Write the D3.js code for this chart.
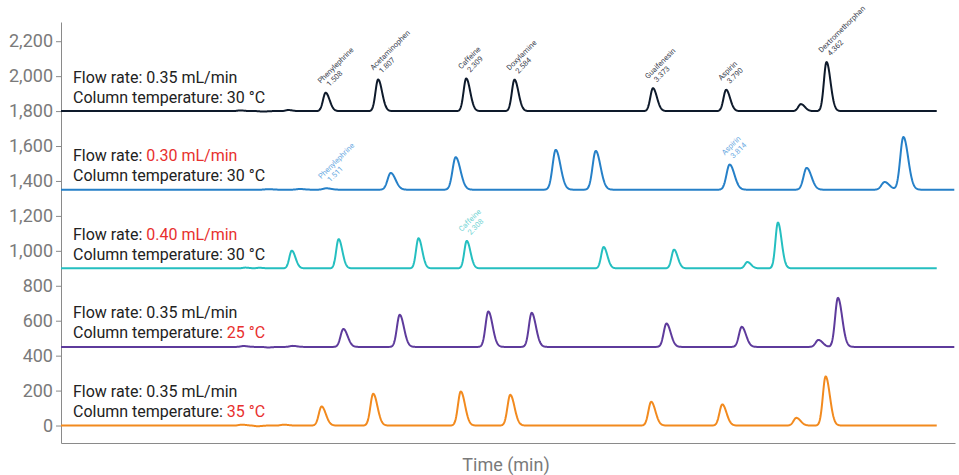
<!DOCTYPE html>
<html>
<head>
<meta charset="utf-8">
<script src="https://cdn.jsdelivr.net/npm/d3@7"></script>
<style>
  body { margin: 0; background: #fff; }
  svg { font-family: Roboto, "Noto Sans", sans-serif; }
</style>
</head>
<body>
<svg id="chart" width="959" height="475"></svg>
<script>
// baseline offset of each run (signal units)
const offsets = [1800, 1350, 900, 450, 0]
const colors = ["#0e1a2b", "#2680c8", "#25bfc0", "#5e3b9c", "#f28a1e"]
const endTimes = [4.99, 5.09, 4.99, 5.09, 4.99]
const peakWidths = [0.015, 0.018, 0.014, 0.016, 0.016]

const flowRates = ["0.35 mL/min", "0.30 mL/min", "0.40 mL/min", "0.35 mL/min", "0.35 mL/min"]
const temps = ["30 °C", "30 °C", "30 °C", "25 °C", "35 °C"]
const flowChanged = [false, true, true, false, false]
const tempChanged = [false, false, false, true, true]

// [retention time (min), height]
const peaksBlack = [[1.02, 4], [1.15, -3], [1.295, 6],
  [1.508, 105], [1.807, 181], [2.309, 187], [2.584, 180], [3.373, 131], [3.790, 122], [4.216, 40], [4.362, 281]]
const peaksBlue = [[1.18, 3], [1.36, 4], [1.512, 8],
  [1.879, 96], [2.249, 186], [2.819, 228], [3.047, 222], [3.810, 144], [4.249, 125], [4.693, 44], [4.800, 302]]
const peaksTeal = [[1.05, 4], [1.13, 3],
  [1.315, 101], [1.582, 167], [2.037, 172], [2.312, 157], [3.092, 122], [3.493, 107], [3.911, 36], [4.085, 262]]
const peaksPurple = [[1.04, 5], [1.18, -3], [1.32, 6],
  [1.609, 103], [1.930, 184], [2.435, 203], [2.682, 195], [3.450, 134], [3.879, 115], [4.316, 40], [4.427, 281]]
const peaksOrange = [[1.03, 5], [1.12, -4], [1.27, 5],
  [1.485, 109], [1.779, 182], [2.278, 195], [2.560, 176], [3.363, 136], [3.768, 121], [4.190, 44], [4.357, 281]]
const allPeaks = [peaksBlack, peaksBlue, peaksTeal, peaksPurple, peaksOrange]

// [run index, retention time, compound, label text]
const peakLabels = [
  [0, 1.508, "Phenylephrine", "1.508"], [0, 1.807, "Acetaminophen", "1.807"],
  [0, 2.309, "Caffeine", "2.309"], [0, 2.584, "Doxylamine", "2.584"],
  [0, 3.373, "Guaifenesin", "3.373"], [0, 3.790, "Aspirin", "3.790"],
  [0, 4.362, "Dextromethorphan", "4.362"],
  [1, 1.512, "Phenylephrine", "1.511"], [1, 3.810, "Aspirin", "3.814"],
  [2, 2.312, "Caffeine", "2.308"]
]
const labelColors = ["#3a4250", "#6aaae2", "#6fd3d3"]

const yTicks = d3.range(0, 2201, 200)

const svg = d3.select("#chart")
const x = d3.scaleLinear().domain([0, 5.094]).range([61, 955])
const y = d3.scaleLinear().domain([-100, 2310]).range([443, 22])

// bi-gaussian peak, tailing on the right
function signal(peaks, w, t) {
  let s = 0
  for (const [rt, h] of peaks) {
    const sd = t < rt ? w : w * 1.5
    s += h * Math.exp(-0.5 * ((t - rt) / sd) ** 2)
  }
  return s
}

// axes
svg.append("g")
  .attr("transform", "translate(61,0)")
  .call(d3.axisLeft(y).tickValues(yTicks).tickFormat(d3.format(",")).tickSize(5).tickSizeOuter(0))
  .call(g => g.select(".domain").attr("stroke", "#8a8a8a"))
  .call(g => g.selectAll(".tick line").attr("stroke", "#8a8a8a"))
  .call(g => g.selectAll(".tick text").attr("fill", "#7a7a7a").attr("font-size", 18).attr("font-family", "Roboto"))

svg.append("g")
  .attr("transform", "translate(0,443)")
  .call(d3.axisBottom(x).tickValues([]).tickSizeOuter(0))
  .call(g => g.select(".domain").attr("stroke", "#8a8a8a"))

svg.append("text")
  .attr("x", 506).attr("y", 471)
  .attr("text-anchor", "middle")
  .attr("fill", "#7a7a7a").attr("font-size", 18)
  .text("Time (min)")

// traces
const line = d3.line().x(d => x(d[0])).y(d => y(d[1]))
allPeaks.forEach((peaks, i) => {
  const pts = d3.range(0, endTimes[i] + 1e-9, 0.002)
    .map(t => [t, offsets[i] + signal(peaks, peakWidths[i], t)])
  svg.append("path")
    .attr("d", line(pts))
    .attr("fill", "none")
    .attr("stroke", colors[i])
    .attr("stroke-width", 2)
    .attr("stroke-linejoin", "round")
})

// peak labels
peakLabels.forEach(([run, rt, name, val]) => {
  const top = offsets[run] + signal(allPeaks[run], peakWidths[run], rt)
  const t = svg.append("text")
    .attr("transform", `translate(${x(rt) - 5},${y(top) - 9}) rotate(-45)`)
    .attr("font-size", 7.5)
    .attr("fill", labelColors[run])
  t.append("tspan").attr("x", 0).attr("dy", 0).text(name)
  t.append("tspan").attr("x", 4).attr("dy", "1.15em").text(val)
})

// condition text
offsets.forEach((off, i) => {
  const by = y(off)
  const t1 = svg.append("text").attr("x", 73).attr("y", by - 28.5)
    .attr("font-size", 16).attr("fill", "#222")
  t1.append("tspan").text("Flow rate: ")
  t1.append("tspan").attr("fill", flowChanged[i] ? "#e8302e" : "#222").text(flowRates[i])
  const t2 = svg.append("text").attr("x", 73).attr("y", by - 8.5)
    .attr("font-size", 16).attr("fill", "#222")
  t2.append("tspan").text("Column temperature: ")
  t2.append("tspan").attr("fill", tempChanged[i] ? "#e8302e" : "#222").text(temps[i])
})
</script>
</body>
</html>
